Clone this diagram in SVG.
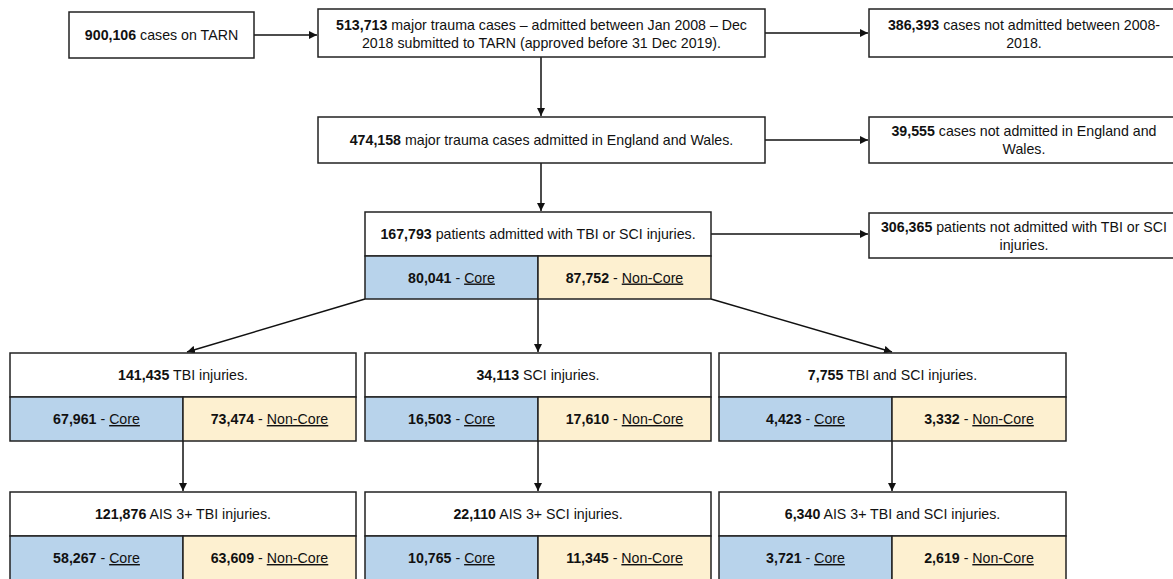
<svg xmlns="http://www.w3.org/2000/svg" width="1173" height="579" viewBox="0 0 1173 579">
<style>
text{font-family:"Liberation Sans",Arial,sans-serif;font-size:14.2px;fill:#111;text-anchor:middle}
.b{font-weight:bold}
.u{text-decoration:underline}
.box{fill:#fff;stroke:#222;stroke-width:1.5}
.core{fill:#b8d3eb;stroke:#222;stroke-width:1.5}
.nc{fill:#fdf0d0;stroke:#222;stroke-width:1.5}
.ln{stroke:#111;stroke-width:1.5;fill:none;marker-end:url(#ah)}
</style>
<defs>
<marker id="ah" markerWidth="9" markerHeight="9" refX="8" refY="4.5" orient="auto" markerUnits="userSpaceOnUse">
<path d="M0,0.5 L8,4.5 L0,8.5 Z" fill="#111"/>
</marker>
</defs>
<rect width="1173" height="579" fill="#fff"/>
<g id="connectors">
<line class="ln" x1="254" y1="35" x2="317" y2="35"/>
<line class="ln" x1="765" y1="33" x2="868" y2="33"/>
<line class="ln" x1="541" y1="57" x2="541" y2="116"/>
<line class="ln" x1="765" y1="140" x2="868" y2="140"/>
<line class="ln" x1="541" y1="163" x2="541" y2="211"/>
<line class="ln" x1="711" y1="234" x2="868" y2="234"/>
<line class="ln" x1="365" y1="299" x2="187" y2="352"/>
<line class="ln" x1="538" y1="299" x2="538" y2="352"/>
<line class="ln" x1="711" y1="299" x2="892" y2="352"/>
<line class="ln" x1="183" y1="441" x2="183" y2="491"/>
<line class="ln" x1="538" y1="441" x2="538" y2="491"/>
<line class="ln" x1="892" y1="441" x2="892" y2="491"/>
</g>
<g id="n1"><rect class="box" x="69" y="12" width="185" height="46"/><text x="161.5" y="40"><tspan class="b">900,106</tspan> cases on TARN</text></g>
<g id="n2"><rect class="box" x="318" y="9" width="447" height="48"/><text x="541.5" y="30"><tspan class="b">513,713</tspan> major trauma cases – admitted between Jan 2008 – Dec</text><text x="541.5" y="48">2018 submitted to TARN (approved before 31 Dec 2019).</text></g>
<g id="n3"><rect class="box" x="869" y="9" width="312" height="48"/><text x="1024" y="30"><tspan class="b">386,393</tspan> cases not admitted between 2008-</text><text x="1024" y="48">2018.</text></g>
<g id="n4"><rect class="box" x="318" y="117" width="447" height="46"/><text x="541.5" y="145"><tspan class="b">474,158</tspan> major trauma cases admitted in England and Wales.</text></g>
<g id="n5"><rect class="box" x="869" y="117" width="312" height="46"/><text x="1024" y="136"><tspan class="b">39,555</tspan> cases not admitted in England and</text><text x="1024" y="154">Wales.</text></g>
<g id="n6"><rect class="box" x="365" y="212" width="346" height="44"/><text x="538" y="239"><tspan class="b">167,793</tspan> patients admitted with TBI or SCI injuries.</text>
<rect class="core" x="365" y="256" width="173" height="43"/><rect class="nc" x="538" y="256" width="173" height="43"/>
<text x="451.5" y="282.5"><tspan class="b">80,041</tspan> - <tspan class="u">Core</tspan></text><text x="624.5" y="282.5"><tspan class="b">87,752</tspan> - <tspan class="u">Non-Core</tspan></text></g>
<g id="n7"><rect class="box" x="869" y="213" width="312" height="45"/><text x="1024" y="232"><tspan class="b">306,365</tspan> patients not admitted with TBI or SCI</text><text x="1024" y="250">injuries.</text></g>
<g id="n8"><rect class="box" x="10" y="353" width="346" height="44"/><text x="183" y="380"><tspan class="b">141,435</tspan> TBI injuries.</text>
<rect class="core" x="10" y="397" width="173" height="44"/><rect class="nc" x="183" y="397" width="173" height="44"/>
<text x="96.5" y="424"><tspan class="b">67,961</tspan> - <tspan class="u">Core</tspan></text><text x="269.5" y="424"><tspan class="b">73,474</tspan> - <tspan class="u">Non-Core</tspan></text></g>
<g id="n9"><rect class="box" x="365" y="353" width="346" height="44"/><text x="538" y="380"><tspan class="b">34,113</tspan> SCI injuries.</text>
<rect class="core" x="365" y="397" width="173" height="44"/><rect class="nc" x="538" y="397" width="173" height="44"/>
<text x="451.5" y="424"><tspan class="b">16,503</tspan> - <tspan class="u">Core</tspan></text><text x="624.5" y="424"><tspan class="b">17,610</tspan> - <tspan class="u">Non-Core</tspan></text></g>
<g id="n10"><rect class="box" x="719" y="353" width="347" height="44"/><text x="892.5" y="380"><tspan class="b">7,755</tspan> TBI and SCI injuries.</text>
<rect class="core" x="719" y="397" width="173" height="44"/><rect class="nc" x="892" y="397" width="174" height="44"/>
<text x="805.5" y="424"><tspan class="b">4,423</tspan> - <tspan class="u">Core</tspan></text><text x="979" y="424"><tspan class="b">3,332</tspan> - <tspan class="u">Non-Core</tspan></text></g>
<g id="n11"><rect class="box" x="10" y="492" width="346" height="44"/><text x="183" y="519"><tspan class="b">121,876</tspan> AIS 3+ TBI injuries.</text>
<rect class="core" x="10" y="536" width="173" height="46"/><rect class="nc" x="183" y="536" width="173" height="46"/>
<text x="96.5" y="563"><tspan class="b">58,267</tspan> - <tspan class="u">Core</tspan></text><text x="269.5" y="563"><tspan class="b">63,609</tspan> - <tspan class="u">Non-Core</tspan></text></g>
<g id="n12"><rect class="box" x="365" y="492" width="346" height="44"/><text x="538" y="519"><tspan class="b">22,110</tspan> AIS 3+ SCI injuries.</text>
<rect class="core" x="365" y="536" width="173" height="46"/><rect class="nc" x="538" y="536" width="173" height="46"/>
<text x="451.5" y="563"><tspan class="b">10,765</tspan> - <tspan class="u">Core</tspan></text><text x="624.5" y="563"><tspan class="b">11,345</tspan> - <tspan class="u">Non-Core</tspan></text></g>
<g id="n13"><rect class="box" x="719" y="492" width="347" height="44"/><text x="892.5" y="519"><tspan class="b">6,340</tspan> AIS 3+ TBI and SCI injuries.</text>
<rect class="core" x="719" y="536" width="173" height="46"/><rect class="nc" x="892" y="536" width="174" height="46"/>
<text x="805.5" y="563"><tspan class="b">3,721</tspan> - <tspan class="u">Core</tspan></text><text x="979" y="563"><tspan class="b">2,619</tspan> - <tspan class="u">Non-Core</tspan></text></g>
</svg>
